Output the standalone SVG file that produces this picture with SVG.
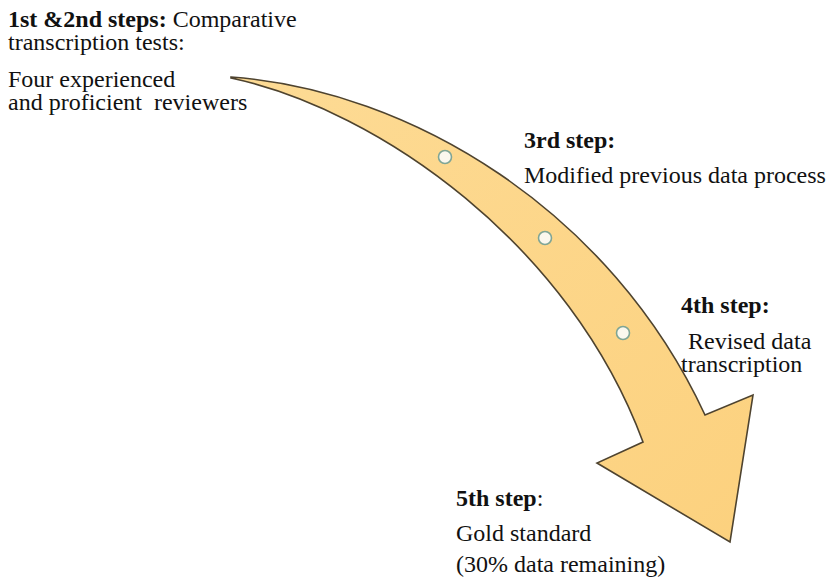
<svg xmlns="http://www.w3.org/2000/svg" width="829" height="580" viewBox="0 0 829 580">
  <style>
    text { font-family: "Liberation Serif", "Times New Roman", serif; font-size: 24px; fill: #111; }
    .b { font-weight: bold; }
    .dot { fill: #fbf8ee; stroke: #7fa595; stroke-width: 1.6; }
  </style>
  <defs>
    <linearGradient id="arrowFill" x1="0" y1="0" x2="1" y2="1">
      <stop offset="0" stop-color="#fddb95"/>
      <stop offset="1" stop-color="#fcd17e"/>
    </linearGradient>
  </defs>

  <!-- curved process arrow -->
  <g id="arrow">
    <path d="M231,77 C410,90 610,210 705,415 L753,395 L730,542 L597,463 L643,442 C570,245 380,110 231,78 Z"
          fill="url(#arrowFill)" stroke="#4e432f" stroke-width="1.6" stroke-linejoin="miter"/>
  </g>

  <!-- milestone markers along the shaft -->
  <g id="markers">
    <circle class="dot" cx="445" cy="157" r="6.5"/>
    <circle class="dot" cx="545" cy="238" r="6.5"/>
    <circle class="dot" cx="623" cy="333" r="6.5"/>
  </g>

  <g id="step1-2">
    <text x="8" y="27"><tspan class="b">1st &amp;2nd steps:</tspan> Comparative</text>
    <text x="8" y="50">transcription tests:</text>
    <text x="8" y="87">Four experienced</text>
    <text x="8" y="110" xml:space="preserve">and proficient  reviewers</text>
  </g>

  <g id="step3">
    <text class="b" x="524" y="148">3rd step:</text>
    <text x="524" y="183">Modified previous data process</text>
  </g>

  <g id="step4">
    <text class="b" x="681" y="313">4th step:</text>
    <text x="682" y="349" xml:space="preserve"> Revised data</text>
    <text x="681" y="372">transcription</text>
  </g>

  <g id="step5">
    <text x="456" y="506"><tspan class="b">5th step</tspan>:</text>
    <text x="456" y="541">Gold standard</text>
    <text x="456" y="572">(30% data remaining)</text>
  </g>
</svg>
